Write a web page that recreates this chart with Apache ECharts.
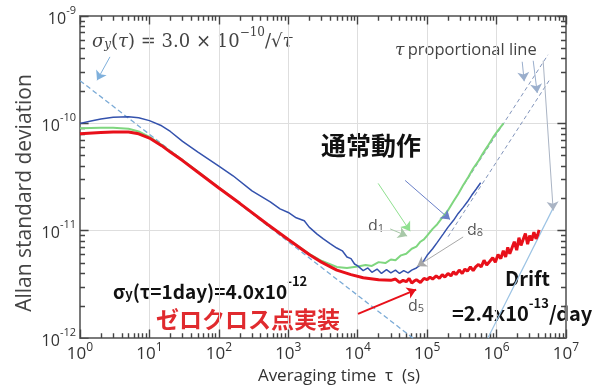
<!DOCTYPE html>
<html>
<head>
<meta charset="utf-8">
<script src="https://cdn.jsdelivr.net/npm/echarts@6/dist/echarts.min.js"></script>
<style>
  html, body { margin: 0; padding: 0; background: #fff; }
  #chart { width: 616px; height: 390px; }
</style>
</head>
<body>
<div id="chart"></div>
<script>
// sigma values are in units of 1e-12
const E = 1e-12

const tauRed = [1, 2, 3, 5, 7, 10, 15, 20, 30, 50, 100, 200, 500, 1000, 2000, 3000, 5000, 8000, 12000, 20000,
  30000, 35000, 40000, 45000, 50000, 55000, 60000, 65000, 70000, 80000, 90000, 1e5, 1.1e5, 1.2e5, 1.35e5, 1.5e5, 1.65e5, 1.8e5, 2e5, 2.2e5,
  2.4e5, 2.6e5, 2.9e5, 3.2e5, 3.5e5, 3.8e5, 4.2e5, 4.6e5, 5e5, 5.5e5, 6e5, 6.6e5, 7.2e5, 8e5, 8.8e5, 9.6e5, 1.05e6, 1.15e6, 1.25e6, 1.35e6,
  1.45e6, 1.55e6, 1.65e6, 1.8e6, 1.95e6, 2.1e6, 2.25e6, 2.4e6, 2.6e6, 2.8e6, 3e6, 3.2e6, 3.45e6, 3.7e6, 3.9e6, 4.1e6]
const sigRed = [80, 82, 83, 83, 80, 73, 62, 54, 45, 35, 25, 18, 11.5, 8.3, 6.0, 5.1, 4.3, 3.9, 3.65, 3.5,
  3.45, 3.55, 3.3, 3.45, 3.35, 3.6, 3.25, 3.4, 3.5, 3.3, 3.6, 3.5, 3.7, 3.55, 3.8, 3.6, 3.9, 3.7, 4.0, 3.8,
  4.15, 3.9, 4.3, 4.0, 4.4, 4.2, 4.6, 4.25, 4.6, 4.85, 4.6, 5.3, 4.8, 5.2, 5.6, 5.1, 6.0, 5.5, 6.5, 5.7,
  7.0, 6.1, 6.8, 7.9, 6.6, 8.6, 7.3, 8.2, 9.4, 7.5, 9.0, 8.1, 9.7, 8.4, 9.1, 10.2]

const tauGreen = [1, 2, 3, 5, 7, 10, 15, 20, 30, 50, 100, 200, 500, 1000, 2000, 3000, 5000, 7000, 10000, 13000,
  16000, 20000, 25000, 30000, 35000, 42000, 50000, 60000, 70000, 80000, 90000, 1e5, 1.2e5, 1.4e5, 1.7e5, 2e5, 2.4e5, 2.8e5, 3.3e5, 3.9e5,
  4.6e5, 5.4e5, 6.3e5, 7.4e5, 8.9e5, 1.05e6, 1.26e6]
const sigGreen = [90, 91, 91, 89, 84, 75, 63, 55, 45.5, 35.5, 25.3, 18, 11.4, 8.3, 6.1, 5.25, 4.6, 4.5, 4.65, 4.8,
  4.7, 5.1, 5.0, 5.4, 5.3, 5.9, 6.1, 6.8, 7.1, 7.9, 8.3, 9.0, 10.4, 11.5, 13.6, 15.5, 18.8, 22, 26.5, 31.5,
  38, 44, 52, 61, 74, 86, 100]

const tauBlue = [1, 1.5, 2, 3, 5, 7, 10, 15, 20, 30, 50, 100, 160, 300, 550, 760, 1000, 1300, 1700, 2000,
  2600, 3200, 4000, 5000, 6000, 7000, 8000, 9000, 10000, 12000, 14000, 16000, 19000, 22000, 26000, 30000, 35000, 40000, 46000, 53000,
  60000, 70000, 80000, 90000, 1e5, 1.2e5, 1.4e5, 1.7e5, 2e5, 2.4e5, 2.8e5, 3.3e5, 3.8e5, 4.4e5, 5.1e5, 5.9e5]
const sigBlue = [100, 106, 110, 114, 115, 113, 106, 95, 84, 68, 54, 40, 32.5, 23.5, 18.6, 16, 14.8, 13.2, 12.4, 10.8,
  9.3, 8.4, 7.6, 6.9, 6.5, 5.7, 5.5, 4.9, 4.7, 4.25, 4.5, 4.1, 4.4, 4.0, 4.35, 4.05, 4.3, 4.0, 4.25, 4.05,
  4.3, 4.5, 4.8, 5.3, 5.9, 6.8, 7.8, 9.3, 10.8, 12.5, 14.5, 16.5, 18.6, 21.5, 24.5, 28]

// sigma_y(tau) = 3.0e-10/sqrt(tau) guide line, as drawn
const dashTau = [1, 1e5]
const dashSig = [250, 0.79]
// tau proportional lines
const propATau = [3e5, 5.5e6]
const propASig = [23.7, 435]
const propBTau = [2e5, 5.7e6]
const propBSig = [8.8, 250]
const driftTau = [7.5e5, 6.6e6]
const driftSig = [1.0, 16.5]

function pairs (ts, ss) {
  return ts.map((t, i) => [t, ss[i] * E])
}

// tick positions: decades get long ticks, 2..9 get short ones
const decX = [1, 10, 100, 1e3, 1e4, 1e5, 1e6, 1e7]
const decY = [1e-12, 1e-11, 1e-10, 1e-9]
const minorX = []
for (let n = 0; n < 7; n++) for (let k = 2; k < 10; k++) minorX.push(k * Math.pow(10, n))
const minorY = []
for (let n = -12; n < -9; n++) for (let k = 2; k < 10; k++) minorY.push(k * Math.pow(10, n))

const tickSegs = []
function addX (t, f) {
  tickSegs.push({ coords: [[t, 1e-12], [t, 1e-12 * f]] })
  tickSegs.push({ coords: [[t, 1e-9], [t, 1e-9 / f]] })
}
function addY (s, f) {
  tickSegs.push({ coords: [[1, s], [f, s]] })
  tickSegs.push({ coords: [[1e7, s], [1e7 / f, s]] })
}
decX.forEach(t => addX(t, 1.2))
minorX.forEach(t => addX(t, 1.11))
decY.forEach(s => addY(s, 1.33))
minorY.forEach(s => addY(s, 1.18))

const supLabel = {
  b: { fontSize: 17, color: '#333', fontFamily: 'Open Sans', lineHeight: 22, verticalAlign: 'bottom' },
  s: { fontSize: 12, color: '#333', fontFamily: 'Open Sans', lineHeight: 12, verticalAlign: 'top' }
}
const supLabelY = {
  b: { fontSize: 16, color: '#333', fontFamily: 'Open Sans', lineHeight: 22, verticalAlign: 'bottom' },
  s: { fontSize: 11, color: '#333', fontFamily: 'Open Sans', lineHeight: 12, verticalAlign: 'top' }
}
function powLabel (v) {
  return '{b|10}{s|' + Math.round(Math.log10(v)) + '}'
}

const frame = { show: true, lineStyle: { color: '#7a7a7a', width: 2 } }

function arrow (from, to, color, width) {
  return [
    { coord: from, lineStyle: { color: color, width: width || 1, type: 'solid' } },
    { coord: to }
  ]
}

const dRich = {
  d: { fontSize: 16, fontFamily: 'Open Sans', fill: '#555', lineHeight: 20, verticalAlign: 'bottom' },
  s: { fontSize: 11, fontFamily: 'Open Sans', fill: '#555', lineHeight: 10, verticalAlign: 'bottom' }
}
const boldRich = {
  n: { fontSize: 19, fontWeight: 'bold', fontFamily: 'Noto Sans CJK JP', fill: '#111', lineHeight: 26, verticalAlign: 'bottom' },
  sub: { fontSize: 13, fontWeight: 'bold', fontFamily: 'Noto Sans CJK JP', fill: '#111', lineHeight: 6, verticalAlign: 'bottom' },
  sup: { fontSize: 13, fontWeight: 'bold', fontFamily: 'Noto Sans CJK JP', fill: '#111', lineHeight: 14, verticalAlign: 'top' }
}
const bold20Rich = {
  n: { fontSize: 20, fontWeight: 'bold', fontFamily: 'Noto Sans CJK JP', fill: '#111', lineHeight: 26, verticalAlign: 'bottom' },
  sup: { fontSize: 13, fontWeight: 'bold', fontFamily: 'Noto Sans CJK JP', fill: '#111', lineHeight: 14, verticalAlign: 'top' }
}

const chart = echarts.init(document.getElementById('chart'))
chart.setOption({
  animation: false,
  backgroundColor: '#fff',
  grid: { left: 80, right: 50, top: 16, bottom: 43 },
  xAxis: [{
    type: 'log', min: 1, max: 1e7, interval: 1, position: 'bottom',
    axisLine: frame, axisTick: { show: false },
    axisLabel: { formatter: powLabel, rich: supLabel, margin: 3 },
    splitLine: { show: true, lineStyle: { color: '#dedede' } },
    name: 'Averaging time  τ  (s)', nameLocation: 'middle', nameGap: 23,
    nameTextStyle: { fontSize: 17, color: '#333', fontFamily: 'Open Sans', padding: [0, 0, 0, 32] }
  }, {
    type: 'log', min: 1, max: 1e7, interval: 1, position: 'top',
    axisLine: frame, axisTick: { show: false }, axisLabel: { show: false }, splitLine: { show: false }
  }],
  yAxis: [{
    type: 'log', min: 1e-12, max: 1e-9, interval: 1, position: 'left',
    axisLine: frame, axisTick: { show: false },
    axisLabel: { formatter: powLabel, rich: supLabelY, margin: 4 },
    splitLine: { show: true, lineStyle: { color: '#dedede' } }
  }, {
    type: 'log', min: 1e-12, max: 1e-9, interval: 1, position: 'right',
    axisLine: frame, axisTick: { show: false }, axisLabel: { show: false }, splitLine: { show: false }
  }],
  series: [
    {
      name: 'ticks', type: 'lines', coordinateSystem: 'cartesian2d', silent: true, z: 1,
      data: tickSegs,
      lineStyle: { color: '#444', width: 1.4, opacity: 1 }
    },
    {
      name: 'guide', type: 'line', symbol: 'none', clip: true,
      data: pairs(dashTau, dashSig),
      lineStyle: { color: '#7aaad6', width: 1.3, type: [5, 3] }
    },
    {
      name: 'propA', type: 'line', symbol: 'none',
      data: pairs(propATau, propASig),
      lineStyle: { color: '#8194bb', width: 1, type: [4, 3] }
    },
    {
      name: 'propB', type: 'line', symbol: 'none',
      data: pairs(propBTau, propBSig),
      lineStyle: { color: '#8194bb', width: 1, type: [4, 3] }
    },
    {
      name: 'drift', type: 'line', symbol: 'none', clip: true,
      data: pairs(driftTau, driftSig),
      lineStyle: { color: '#9cc3e4', width: 1.2 }
    },
    {
      name: 'd1', type: 'line', symbol: 'none',
      data: pairs(tauGreen, sigGreen),
      lineStyle: { color: '#7fd67f', width: 2 }
    },
    {
      name: 'd8', type: 'line', symbol: 'none',
      data: pairs(tauBlue, sigBlue),
      lineStyle: { color: '#3452ad', width: 1.5 }
    },
    {
      name: 'd5', type: 'line', symbol: 'none',
      data: pairs(tauRed, sigRed),
      lineStyle: { color: '#e8101a', width: 3 }
    },
    {
      name: 'arrows', type: 'line', data: [], z: 6,
      markLine: {
        silent: true, animation: false,
        symbol: ['none', 'arrow'], symbolSize: 9,
        label: { show: false },
        data: [
          arrow([2.7, 4.16e-10], [1.76, 2.52e-10], '#7fb0dc'),
          arrow([2.34e6, 3.75e-10], [2.5e6, 2.47e-10], '#9aaecc'),
          arrow([3.37e6, 3.83e-10], [3.85e6, 1.92e-10], '#9aaecc'),
          arrow([4.69e6, 3.83e-10], [6.54e6, 1.54e-11], '#aab4c4'),
          arrow([1.97e4, 2.76e-11], [5.69e4, 9.9e-12], '#8fe08f'),
          arrow([4.82e4, 2.94e-11], [2.14e5, 1.27e-11], '#6a80c8'),
          arrow([3.3e5, 8.75e-12], [7.18e4, 4.68e-12], '#a8a8a8'),
          arrow([2.93e4, 1.04e-11], [5.15e4, 8.93e-12], '#a8c8a8'),
          arrow([1.01e4, 1.68e-12], [6.94e4, 2.83e-12], '#e8101a', 2)
        ]
      }
    }
  ],
  graphic: [
    {
      type: 'text', x: 25, y: 193, rotation: Math.PI / 2,
      style: { text: 'Allan standard deviation', font: '21px "Open Sans"', fill: '#444', align: 'center', verticalAlign: 'middle' }
    },
    {
      type: 'text', left: 92, top: 27,
      style: {
        text: '{i|σ}{sub|y}{n|(}{i|τ}{n|) = 3.0 × 10}{sup|−10}{n|/√}{i|τ}',
        rich: {
          i: { fontSize: 18, fontStyle: 'italic', fontFamily: 'DejaVu Serif', fill: '#444', lineHeight: 24, verticalAlign: 'bottom' },
          n: { fontSize: 18, fontFamily: 'DejaVu Serif', fill: '#444', lineHeight: 24, verticalAlign: 'bottom' },
          sub: { fontSize: 12, fontStyle: 'italic', fontFamily: 'DejaVu Serif', fill: '#444', lineHeight: 8, verticalAlign: 'bottom' },
          sup: { fontSize: 12, fontFamily: 'DejaVu Serif', fill: '#444', lineHeight: 12, verticalAlign: 'top' }
        }
      }
    },
    {
      type: 'text', left: 395, top: 42,
      style: {
        text: '{i|τ} {n|proportional line}',
        rich: {
          i: { fontSize: 17, fontStyle: 'italic', fontFamily: 'DejaVu Serif', fill: '#444' },
          n: { fontSize: 16.5, fontFamily: 'Open Sans', fill: '#444' }
        }
      }
    },
    {
      type: 'text', left: 321, top: 133,
      style: { text: '通常動作', font: 'bold 25px "Noto Sans CJK JP"', fill: '#111' }
    },
    { type: 'text', left: 368, top: 218, style: { text: '{d|d}{s|1}', rich: dRich } },
    { type: 'text', left: 467, top: 222, style: { text: '{d|d}{s|8}', rich: dRich } },
    { type: 'text', left: 408, top: 298, style: { text: '{d|d}{s|5}', rich: dRich } },
    {
      type: 'text', left: 113, top: 275,
      style: { text: '{n|σ}{sub|y}{n|(τ=1day)=4.0x10}{sup|-12}', rich: boldRich }
    },
    {
      type: 'text', left: 156, top: 308,
      style: { text: 'ゼロクロス点実装', font: 'bold 23px "Noto Sans CJK JP"', fill: '#e02a2e' }
    },
    {
      type: 'text', left: 505, top: 268,
      style: { text: 'Drift', font: 'bold 20px "Noto Sans CJK JP"', fill: '#111' }
    },
    {
      type: 'text', left: 452, top: 297,
      style: { text: '{n|=2.4x10}{sup|-13}{n|/day}', rich: bold20Rich }
    }
  ]
})
</script>
</body>
</html>
